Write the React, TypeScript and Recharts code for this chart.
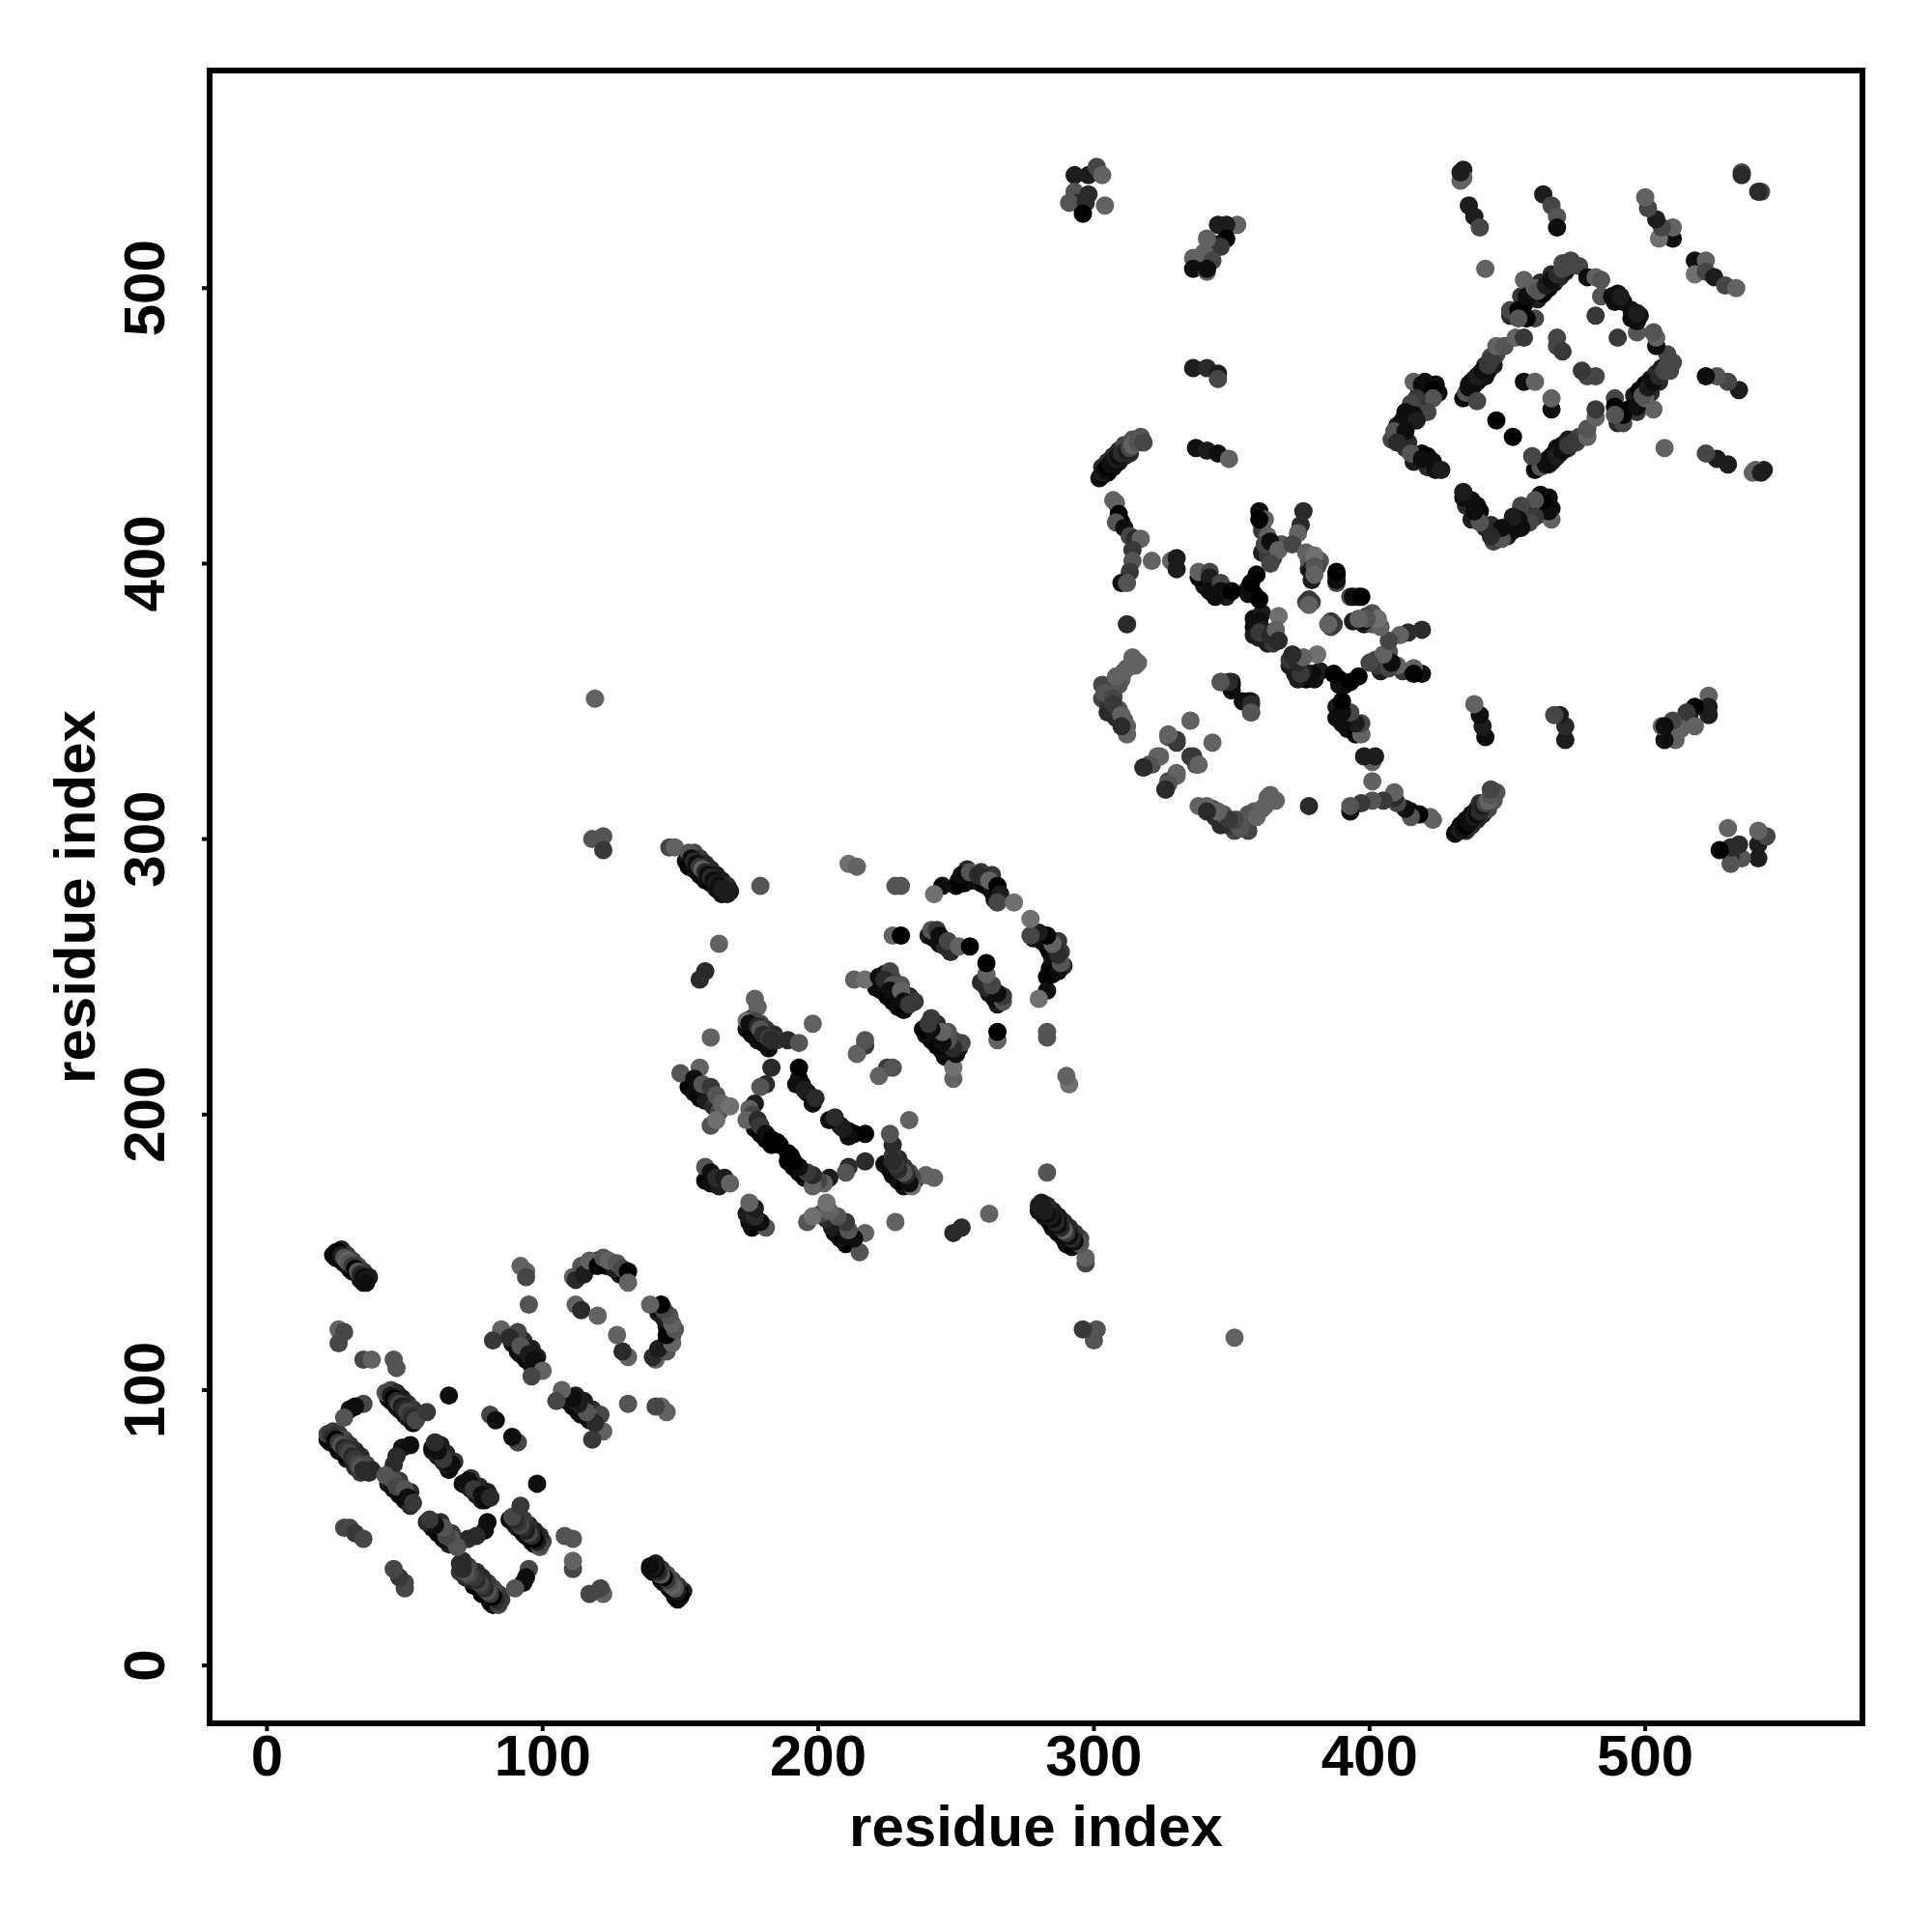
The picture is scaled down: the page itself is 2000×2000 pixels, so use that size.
import { ScatterChart, Scatter, XAxis, YAxis, ReferenceArea, Label } from "recharts";

// contacts as [residue i, residue j, shade 0 (black) .. 8 (grey)]
// the map is symmetric, so only one side of the diagonal is listed
const block1 = [
  [25,150,1],[26,150,0],[27,149,2],[28,148,6],[29,147,7],[30,146,6],[31,145,4],[32,144,0],[33,143,6],[34,142,3],[35,141,1],[36,140,2],[36,139,1],
  [26,122,7],[28,121,5],[26,117,5],[35,111,5],[38,111,7],[46,111,6],[47,108,6],
  [43,99,6],[44,99,5],[45,98,2],[46,97,0],[47,96,3],[48,95,5],[49,94,2],[50,93,3],[51,92,5],[52,91,4],[53,90,3],[54,89,5],[58,92,4],
  [66,98,1],[35,95,5],[32,94,1],[30,93,1],[28,90,6],
  [22,84,5],[23,84,4],[24,83,3],[25,82,0],[26,81,4],[27,80,6],[28,79,3],[29,78,4],[30,77,5],[31,76,3],[32,75,4],[33,73,5],[34,72,6],[35,71,3],[37,70,3],
  [81,91,5],[83,89,1],[52,80,1],[49,79,1],[47,76,3],[46,73,3],
  [61,81,4],[61,79,1],[63,77,4],[64,76,3],[67,73,1],
  [43,69,6],[46,67,6],[47,65,5],[50,64,6],[51,61,1],[53,59,4],
  [73,67,1],[75,64,4],[78,62,1],[81,61,3],
  [28,50,5],[30,50,5],[32,48,4],[35,46,5],
  [92,145,7],[94,143,7],[94,141,5],[95,131,6],
  [85,122,7],[82,118,4],[91,121,5],[88,119,3],[92,116,6],[95,113,2],[97,111,1],[100,107,7],[96,105,5],
  [111,141,7],[112,140,3],[114,145,6],[115,142,2],[117,147,7],[120,145,0],[122,148,6],[124,147,7],[127,146,6],[129,144,5],[131,143,0],[131,139,7],
  [112,131,7],[114,129,3],[120,127,7],
];

const block2 = [
  [146,297,5],[148,297,7],[153,295,6],[154,293,1],[155,292,3],[156,291,1],[157,290,4],[158,289,7],[159,288,3],[160,287,1],[161,286,3],[162,285,1],[163,284,2],[164,283,1],[165,282,2],[167,280,2],
  [179,283,6],[164,262,7],[159,252,3],[157,249,3],
  [211,291,8],[214,290,7],[228,283,6],[230,283,6],[245,283,1],[242,280,8],
  [251,285,0],[252,287,1],[255,288,6],[258,287,3],[260,286,3],[262,285,7],[265,283,0],[266,280,2],[265,277,5],[271,277,8],
  [227,265,7],[230,265,0],[241,267,6],[243,267,4],[244,265,1],[247,263,5],[251,261,7],[255,261,0],
  [213,249,7],[217,249,8],[222,250,1],[226,252,5],[224,249,3],[227,247,6],[226,245,1],[230,245,7],[231,241,1],[233,240,4],
  [217,225,4],[214,222,7],[217,227,6],[198,233,7],[161,228,7],
  [174,234,8],[177,242,7],[178,239,7],[177,234,5],[175,233,1],[178,232,3],[179,231,6],[180,229,3],[182,228,4],[183,227,3],[189,227,3],[193,226,6],
  [183,217,3],[181,211,3],[179,210,6],[177,204,2],[175,202,7],
  [193,217,0],[192,211,1],[195,209,2],[199,206,3],
  [150,215,6],[157,217,7],[155,213,1],[156,210,1],[158,211,6],[161,210,4],[163,207,6],[165,204,7],[168,203,8],[161,196,6],[163,198,8],
  [176,200,5],[174,198,7],[178,198,3],[179,196,4],[181,193,1],[183,191,0],[185,190,0],[186,189,0],
  [159,181,6],[161,179,1],[163,177,3],[166,177,2],[168,175,7],
];

const block3 = [
  [119,351,7],[118,300,6],[122,301,6],[122,296,4],
  [303,433,2],[304,434,1],[305,435,0],[306,436,1],[307,437,1],[308,438,2],[309,439,1],[310,440,3],[312,441,2],[313,442,5],[314,443,7],[316,444,6],[318,444,5],
  [337,442,1],[341,441,2],[345,440,1],[349,438,7],
  [336,471,2],[341,471,3],[345,469,2],[345,467,5],
  [352,523,7],[348,523,2],[345,523,2],[348,518,0],[344,516,2],[346,515,4],[341,518,7],[340,513,7],[343,510,5],[336,511,7],[336,507,1],[341,506,7],[341,507,1],
  [293,541,2],[298,541,2],[301,544,5],[303,541,7],[293,535,6],[298,534,3],[294,531,3],[291,531,6],[297,531,3],[296,527,0],[304,530,7],
  [307,423,7],[308,422,7],[309,418,0],[310,415,0],[308,415,6],[311,413,1],[313,410,5],[315,409,3],[317,409,7],[314,405,4],[314,401,6],[313,397,4],[310,393,1],[312,393,6],
  [321,401,7],[328,401,7],[330,402,2],[330,398,2],
  [338,395,0],[338,397,7],[342,397,5],[342,395,2],[342,390,1],[346,393,5],[346,390,1],[350,390,0],[356,389,1],[359,396,0],[357,393,0],[360,387,0],
  [360,379,1],[359,378,1],[361,376,2],[360,375,4],[364,374,3],[367,381,8],[366,376,7],[367,372,3],
  [360,419,1],[362,416,7],[360,416,0],[363,410,7],[362,407,5],[364,408,1],[367,405,7],[364,400,5],
  [376,419,3],[375,414,3],[374,411,7],[372,407,5],[377,404,7],[380,403,8],[379,398,1],[380,399,6],[380,396,7],
  [388,396,0],[388,393,5],[394,388,1],[397,388,0],[379,386,4],[377,386,5],[387,378,4],[385,378,7],
  [314,364,7],[311,361,7],[308,359,7],[304,353,6],[307,351,5],[307,349,4],[310,345,7],[312,341,7],[312,338,7],[310,341,3],
  [312,378,3],[335,343,7],[327,337,6],[330,335,4],[324,330,7],[321,327,5],[318,326,3],[336,330,4],[338,327,7],[330,323,7],[327,320,6],[326,318,3],
  [346,357,6],[350,357,3],[350,354,1],[356,350,1],[357,349,3],[357,346,6],
];

const block4 = [
  [442,507,7],
  [416,466,7],[419,465,1],[423,463,0],[423,460,6],[417,460,4],[415,458,5],[421,455,5],[416,454,1],[413,455,1],[412,452,1],[417,452,2],[409,448,6],[413,448,1],[410,444,3],[415,440,6],[419,438,1],[423,437,1],[426,434,2],
  [435,462,6],[436,464,1],[437,466,1],[439,468,2],[441,470,1],[443,472,4],[444,474,4],[446,479,7],[449,479,6],[453,482,7],[456,482,4],[439,459,5],
  [446,452,0],[456,466,1],[460,466,7],[468,482,5],[468,479,5],[470,477,4],[482,490,4],
  [451,492,5],[454,492,0],[456,503,7],[457,497,1],[460,489,5],[457,489,0],[454,489,6],
  [460,500,7],[461,499,6],[464,501,2],[466,503,1],[468,505,3],[470,507,5],[472,508,5],[476,508,5],[479,504,1],[482,504,7],[484,503,6],[484,497,6],[488,497,1],[491,497,2],
  [434,543,2],[434,540,7],[436,530,2],[438,526,2],[440,522,5],[433,539,7],[433,542,2],
  [463,534,2],[466,530,5],[468,526,6],[468,522,1],
  [510,518,1],[510,522,7],[505,518,8],[506,522,5],[504,525,2],[501,529,5],[500,533,7],
  [535,542,5],[541,535,3],
];

// neighbouring contacts that make the strands look thick, drawn underneath
const strandEdges1 = [
  [24,149,1],[25,148,0],[27,147,1],[28,146,0],[30,144,2],[31,143,0],[33,142,1],[34,140,1],[35,139,1],[27,151,2],[29,149,4],[31,147,5],[33,145,5],[35,143,4],[37,141,2],
  [22,82,1],[23,81,0],[25,80,1],[26,78,0],[28,77,1],[29,75,0],[31,74,2],[32,72,3],[34,70,4],[24,85,4],[26,84,4],[28,82,5],[30,80,4],[32,78,3],[34,76,3],[36,73,5],[38,71,3],
  [44,97,1],[45,96,0],[47,94,0],[48,93,1],[50,91,0],[51,90,2],[53,88,1],[45,100,5],[47,99,3],[49,97,2],[51,95,3],[53,93,4],[55,91,4],
  [92,113,0],[94,111,0],[96,109,1],[91,114,1],[89,117,1],[93,118,3],[96,115,2],[98,112,2],
  [44,66,2],[46,64,1],[48,62,0],[50,60,0],[52,58,3],[45,70,5],[48,67,4],[52,63,3],
  [118,145,4],[120,147,2],[123,145,1],[126,144,2],[128,142,2],[130,141,0],
  [60,78,2],[62,76,2],[64,74,2],[66,71,1],[73,65,2],[76,62,2],[79,60,1],[74,68,4],[77,65,3],[80,63,2],
];

const strandEdges2 = [
  [152,292,1],[153,290,0],[155,289,1],[157,287,0],[159,285,1],[161,284,0],[163,282,1],[165,280,1],[155,295,5],[157,293,4],[159,291,3],[161,289,3],[163,287,2],[165,285,2],[167,283,3],[168,281,2],
  [174,231,1],[176,229,0],[178,227,1],[180,226,0],[182,224,1],[176,235,4],[179,233,5],[181,231,4],[184,229,3],[185,227,4],
  [221,246,0],[223,245,1],[225,243,0],[227,241,0],[229,239,1],[231,238,0],[224,251,2],[227,249,5],[230,247,6],[233,243,3],[235,241,4],
  [153,210,0],[155,208,1],[157,206,0],[159,205,2],[162,203,3],[164,201,5],
  [177,195,1],[179,193,0],[181,191,0],[183,189,0],
  [193,213,1],[194,211,0],[196,208,0],[198,204,1],
  [250,283,0],[253,284,0],[256,285,1],[259,284,1],[261,283,0],[263,281,1],[264,278,1],[254,289,3],[259,288,4],[263,287,4],
  [240,265,2],[242,264,1],[244,262,1],[246,261,3],[248,259,3],
  [159,176,0],[161,175,1],[164,174,2],
];

const strandEdges3 = [
  [302,431,1],[303,432,0],[305,433,0],[306,435,0],[307,435,1],[309,437,1],[311,439,2],[313,440,3],[303,435,3],[305,437,3],[307,439,3],[309,441,3],[311,443,5],[314,445,6],[317,446,6],
  [312,362,6],[315,363,7],[314,366,7],[316,364,7],[310,358,7],[306,355,7],[303,351,5],[305,349,4],[305,346,3],[308,344,3],[309,347,6],[311,343,5],[307,352,5],[309,356,6],[303,356,5],
  [358,377,0],[360,373,2],[363,371,2],[365,371,4],[358,380,1],[361,382,2],[358,374,2],
  [356,391,1],[358,389,0],[348,388,2],[344,388,1],[340,392,1],[341,393,2],
  [361,412,4],[363,406,3],[361,404,2],[365,402,5],[363,403,4],[368,407,6],
  [378,398,2],[379,394,2],[378,401,6],[382,401,6],[381,399,5],
];

const strandEdges4 = [
  [434,460,1],[435,461,0],[436,463,0],[437,464,0],[438,465,0],[439,466,1],[440,467,0],[442,468,1],[443,470,1],[445,472,2],[436,465,4],[438,467,3],[440,469,3],[442,472,3],[444,475,5],[446,476,5],
  [460,497,1],[461,496,2],[463,498,0],[465,500,0],[467,502,1],[469,504,3],[462,502,3],[466,505,3],[470,509,5],[473,510,5],[471,506,2],
  [411,450,0],[412,449,1],[414,451,1],[415,452,0],[410,450,2],[411,446,2],[412,446,2],[408,445,5],[414,444,3],[418,454,2],[420,458,3],[418,462,0],[421,461,0],[424,465,1],[420,466,1],[425,462,1],
  [413,442,3],[416,437,2],[421,435,3],[424,434,1],[421,439,0],[419,440,0],
  [453,490,1],[455,490,0],[451,490,3],[456,494,0],[458,498,1],[455,497,4],
  [489,495,1],[492,495,1],[490,498,1],
];

const axisTicks = [0, 100, 200, 300, 400, 500];

const contacts = [
  ...strandEdges1, ...strandEdges2, ...strandEdges3, ...strandEdges4,
  ...block1, ...block2, ...block3, ...block4,
].flatMap(([i, j, shade]) => [
  { x: i, y: j, shade },
  { x: j, y: i, shade },
]);

const FONT = "'Liberation Sans', Arial, sans-serif";

const Dot = (props: any) => {
  const g = props.payload.shade * 14;
  return <circle cx={props.cx} cy={props.cy} r={9.5} fill={`rgb(${g},${g},${g})`} />;
};

const XTick = ({ x, y, payload }: any) => (
  <text x={x} y={y + 44} textAnchor="middle" fontFamily={FONT} fontWeight={700} fontSize={60} fill="#000">
    {payload.value}
  </text>
);

const YTick = ({ y, payload }: any) => (
  <text
    x={170}
    y={y}
    transform={`rotate(-90 170 ${y})`}
    textAnchor="middle"
    fontFamily={FONT}
    fontWeight={700}
    fontSize={60}
    fill="#000"
  >
    {payload.value}
  </text>
);

export default function App() {
  return (
    <div style={{ position: "absolute", left: 0, top: 0, width: 2000, height: 2000, background: "#fff" }}>
      <ScatterChart width={2000} height={2000} margin={{ top: 73, right: 72, bottom: 0, left: 0 }}>
        <XAxis
          type="number"
          dataKey="x"
          domain={[-20.8, 578.8]}
          ticks={axisTicks}
          height={216}
          allowDataOverflow
          axisLine={false}
          tickLine={{ stroke: "#000", strokeWidth: 4 }}
          tickSize={8}
          tick={<XTick />}
        >
          <Label
            value="residue index"
            position="insideBottom"
            offset={89}
            style={{ fontFamily: FONT, fontWeight: 700, fontSize: 60, fill: "#000" }}
          />
        </XAxis>
        <YAxis
          type="number"
          dataKey="y"
          domain={[-21, 579]}
          ticks={axisTicks}
          width={217}
          allowDataOverflow
          axisLine={false}
          tickLine={{ stroke: "#000", strokeWidth: 4 }}
          tickSize={8}
          tick={<YTick />}
        >
          <Label
            value="residue index"
            angle={-90}
            position="insideLeft"
            offset={77}
            style={{ fontFamily: FONT, fontWeight: 700, fontSize: 60, fill: "#000", textAnchor: "middle" }}
          />
        </YAxis>
        <Scatter data={contacts} shape={<Dot />} isAnimationActive={false} />
        <ReferenceArea x1={-20.8} x2={578.8} y1={-21} y2={579} fill="none" stroke="#000" strokeWidth={6} ifOverflow="visible" />
      </ScatterChart>
    </div>
  );
}
